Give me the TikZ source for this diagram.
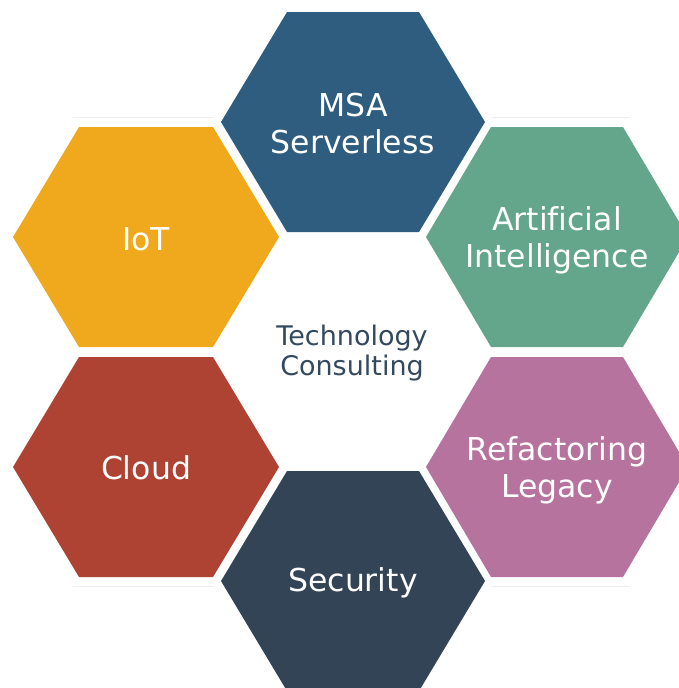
\documentclass[tikz,border=0pt]{standalone}
\usepackage{fontspec}
\setmainfont[Ligatures=NoCommon]{DejaVu Sans}

\definecolor{msablue}{RGB}{47,93,127}
\definecolor{aigreen}{RGB}{99,166,139}
\definecolor{refpink}{RGB}{181,115,157}
\definecolor{secslate}{RGB}{51,68,86}
\definecolor{cloudred}{RGB}{174,67,51}
\definecolor{iotyellow}{RGB}{240,169,28}
\definecolor{coretext}{RGB}{52,73,94}

\tikzset{every picture/.style={line width=0.75pt}}
\tikzset{
  hextext/.style={text=white, font=\fontsize{31.5}{37}\selectfont, align=center, inner sep=0.75pt},
  coretitle/.style={text=coretext, font=\fontsize{27}{30}\selectfont, align=center, inner sep=0.75pt},
  shadeline/.style={draw=black!7, line width=1pt}
}

\begin{document}
\begin{tikzpicture}[x=1pt,y=1pt,yscale=-1,xscale=1]
\useasboundingbox (0,0) rectangle (679,688);

% Faint edges
\draw [shadeline] (73,117) -- (213,117);
\draw [shadeline] (492,117) -- (629,117);
\draw [shadeline] (73,586) -- (213,586);
\draw [shadeline] (492,586) -- (629,586);

% Hexagon MSA
\fill [msablue] (287,12) -- (419,12) -- (485,122) -- (419,232) -- (287,232) -- (221,122) -- cycle;
\draw (353,124) node [hextext] (msa) {MSA\\Serverless};
% Hexagon IoT
\fill [iotyellow] (79,127) -- (213,127) -- (279,237) -- (213,347) -- (79,347) -- (13,237) -- cycle;
\draw (146,239) node [hextext] (iot) {IoT};
% Hexagon Cloud
\fill [cloudred] (79,357) -- (213,357) -- (279,467) -- (213,577) -- (79,577) -- (13,467) -- cycle;
\draw (146,468) node [hextext] (cloud) {Cloud};
% Hexagon AI
\fill [aigreen] (491,127) -- (623,127) -- (688,237) -- (623,347) -- (491,347) -- (426,237) -- cycle;
\draw (557,240) node [hextext] (ai) {Artificial\\Intelligence};
% Hexagon Refactoring
\fill [refpink] (491,357) -- (623,357) -- (688,467) -- (623,577) -- (491,577) -- (426,467) -- cycle;
\draw (557,470) node [hextext] (legacy) {Refactoring\\Legacy};
% Hexagon Security
\fill [secslate] (287,471) -- (419,471) -- (485,581) -- (419,691) -- (287,691) -- (221,581) -- cycle;
\draw (353,583) node [hextext] (security) {Security};

% Centre text
\draw (352,353) node [coretitle] (core) {Technology\\Consulting};

\end{tikzpicture}
\end{document}
